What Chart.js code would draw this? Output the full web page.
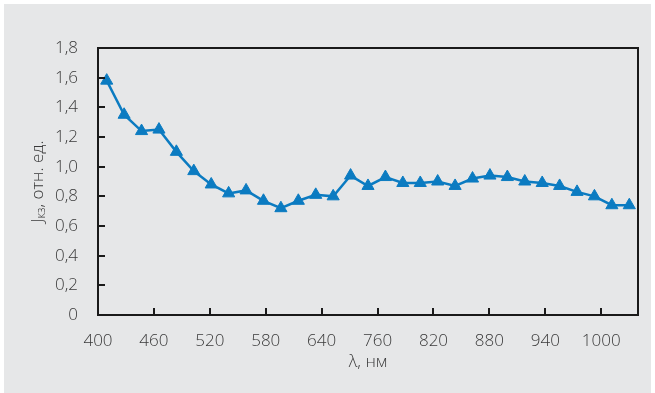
<!DOCTYPE html>
<html>
<head>
<meta charset="utf-8">
<script src="https://cdn.jsdelivr.net/npm/chart.js@4/dist/chart.umd.min.js"></script>
<style>
  body { margin: 0; background: #fff; }
  #box { position: absolute; left: 4px; top: 4px; width: 647px; height: 389px; background: #e6e7e8; }
</style>
</head>
<body>
<div id="box"><canvas id="chart"></canvas></div>
<script>
// wavelengths, nm
const wavelengths = [400, 420, 440, 460, 480, 500, 520, 540, 560, 580, 600, 620, 640, 660, 680, 700,
    720, 740, 760, 780, 800, 820, 840, 860, 880, 900, 920, 940, 960, 980, 1000]
// Jкз, отн. ед.
const jkz = [1.58, 1.35, 1.24, 1.25, 1.10, 0.97, 0.88, 0.82, 0.84, 0.77, 0.72, 0.77, 0.81, 0.80, 0.94, 0.87,
    0.93, 0.89, 0.89, 0.90, 0.87, 0.92, 0.94, 0.93, 0.90, 0.89, 0.87, 0.83, 0.80, 0.74, 0.74]

// tick labels as printed under the axis
const tickVals = [390, 454.2, 518.4, 582.6, 646.8, 711, 775.2, 839.4, 903.6, 967.8]
const tickLabels = ['400', '460', '520', '580', '640', '760', '820', '880', '940', '1000']

const points = wavelengths.map((w, i) => ({ x: w, y: jkz[i] }))
const textColor = '#3a3a3a'
const font = { family: 'Open Sans', size: 17, weight: 300 }

// box around plot + inner tick marks + y title with subscript
const frame = {
    id: 'frame',
    afterDraw(chart) {
        const ctx = chart.ctx
        const a = chart.chartArea
        const xs = chart.scales.x, ys = chart.scales.y
        ctx.save()
        ctx.strokeStyle = '#1a1a1a'
        ctx.lineWidth = 2
        ctx.strokeRect(a.left, a.top, a.right - a.left, a.bottom - a.top)
        ctx.beginPath()
        ys.ticks.forEach(t => {
            const y = Math.round(ys.getPixelForValue(t.value))
            ctx.moveTo(a.left, y); ctx.lineTo(a.left + 7, y)
        })
        xs.ticks.forEach(t => {
            const x = Math.round(xs.getPixelForValue(t.value))
            ctx.moveTo(x, a.bottom); ctx.lineTo(x, a.bottom - 7)
        })
        ctx.stroke()

        // y title
        ctx.translate(34, (a.top + a.bottom) / 2)
        ctx.rotate(-Math.PI / 2)
        ctx.fillStyle = textColor
        ctx.textBaseline = 'middle'
        const f1 = '300 17px "Open Sans"', f2 = '300 12px "Open Sans"'
        ctx.font = f1
        const wJ = ctx.measureText('J').width
        const rest = ', отн. ед.'
        const wR = ctx.measureText(rest).width
        ctx.font = f2
        const wS = ctx.measureText('кз').width
        let x = -(wJ + wS + wR) / 2
        ctx.font = f1
        ctx.fillText('J', x, 0); x += wJ
        ctx.font = f2
        ctx.fillText('кз', x, 4); x += wS
        ctx.font = f1
        ctx.fillText(rest, x, 0)
        ctx.restore()
    }
}

var context = document.getElementById('chart').getContext('2d')
new Chart(context, {
    type: 'line',
    data: {
        datasets: [{
            data: points,
            borderColor: '#0b7bc1',
            backgroundColor: '#0b7bc1',
            borderWidth: 2.5,
            pointStyle: 'triangle',
            pointRadius: 7,
            pointBorderWidth: 1,
            tension: 0
        }]
    },
    options: {
        responsive: true,
        maintainAspectRatio: false,
        animation: false,
        layout: { padding: { top: 44, right: 13, left: 0, bottom: 0 } },
        plugins: { legend: { display: false }, tooltip: { enabled: false } },
        scales: {
            x: {
                type: 'linear',
                min: 390,
                max: 1010,
                afterBuildTicks: s => { s.ticks = tickVals.map(v => ({ value: v })) },
                afterFit: s => { s.height = 78 },
                grid: { display: false },
                border: { display: false },
                ticks: {
                    color: textColor, font: font, padding: 8, maxRotation: 0, autoSkip: false,
                    callback: (v, i) => tickLabels[i]
                },
                title: { display: true, text: 'λ, нм', color: textColor, font: font, padding: { top: 0, bottom: 21 } }
            },
            y: {
                min: 0,
                max: 1.8,
                afterFit: s => { s.width = 94 },
                grid: { display: false },
                border: { display: false },
                ticks: {
                    stepSize: 0.2, color: textColor, font: font, padding: 12,
                    callback: v => v === 0 ? '0' : v.toFixed(1).replace('.', ',')
                }
            }
        }
    },
    plugins: [frame]
})
</script>
</body>
</html>
